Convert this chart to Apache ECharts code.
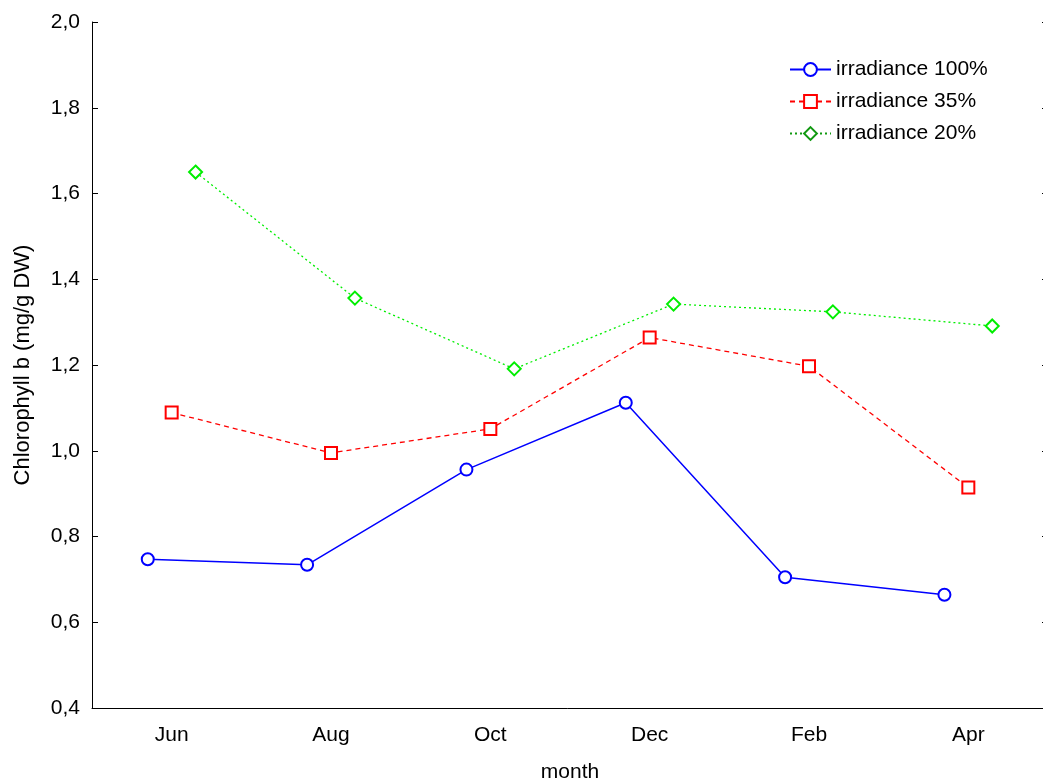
<!DOCTYPE html>
<html>
<head>
<meta charset="utf-8">
<script src="https://cdn.jsdelivr.net/npm/echarts@6/dist/echarts.min.js"></script>
<style>
	html, body { margin: 0; padding: 0; background: #fff; }
	#chart { width: 1043px; height: 783px; }
</style>
</head>
<body>
<div id="chart"></div>
<script>
// data
const months = ['Jun', 'Aug', 'Oct', 'Dec', 'Feb', 'Apr'];
const irr100 = [0.747, 0.734, 0.956, 1.112, 0.705, 0.664];
const irr35 = [1.089, 0.995, 1.051, 1.264, 1.197, 0.914];
const irr20 = [1.650, 1.356, 1.191, 1.342, 1.324, 1.291];
const seriesNames = ['irradiance 100%', 'irradiance 35%', 'irradiance 20%'];
// horizontal shift of each series inside its month (in category units)
const shift = [-0.15, 0, 0.15];

const chart = echarts.init(document.getElementById('chart'));

const font = 'Liberation Sans, Arial, sans-serif';

function points(values, off) {
	return values.map(function(v, i) {
		return [i + off, v];
	});
}

let option = {
	backgroundColor: '#ffffff',
	animation: false,
	textStyle: {
		fontFamily: font
	},
	grid: {
		left: 92,
		width: 956,
		top: 22,
		height: 686,
		outerBoundsMode: 'none'
	},
	legend: {
		orient: 'vertical',
		left: 784,
		top: 54,
		itemWidth: 41,
		itemHeight: 16,
		itemGap: 11,
		textStyle: {
			color: '#000',
			fontSize: 21,
			fontFamily: font
		},
		data: [
			seriesNames[0],
			seriesNames[1],
			{
				name: seriesNames[2],
				itemStyle: { color: '#119911', borderColor: '#119911' },
				lineStyle: { color: '#119911' }
			}
		]
	},
	xAxis: [{
		type: 'category',
		data: months,
		boundaryGap: true,
		name: 'month',
		nameLocation: 'middle',
		nameGap: 54,
		nameTextStyle: {
			color: '#000',
			fontSize: 21
		},
		axisLine: {
			onZero: false,
			lineStyle: {
				color: '#000',
				width: 1
			}
		},
		axisTick: {
			alignWithLabel: true,
			inside: true,
			length: 6,
			lineStyle: {
				color: '#000'
			}
		},
		axisLabel: {
			color: '#000',
			fontSize: 21,
			margin: 17
		},
		splitLine: {
			show: false
		}
	}, {
		// hidden value axis that places the shifted points
		type: 'value',
		min: -0.5,
		max: 5.5,
		show: false
	}],
	yAxis: [{
		type: 'value',
		min: 0.4,
		max: 2.0,
		interval: 0.2,
		name: 'Chlorophyll b (mg/g DW)',
		nameLocation: 'middle',
		nameGap: 58,
		nameTextStyle: {
			color: '#000',
			fontSize: 22
		},
		axisLine: {
			show: true,
			onZero: false,
			lineStyle: {
				color: '#000',
				width: 1
			}
		},
		axisTick: {
			show: true,
			inside: true,
			length: 6,
			lineStyle: {
				color: '#000'
			}
		},
		axisLabel: {
			color: '#000',
			fontSize: 21,
			margin: 12,
			formatter: function(v) {
				return v.toFixed(1).replace('.', ',');
			}
		},
		splitLine: {
			show: false
		}
	}, {
		type: 'value',
		position: 'right',
		min: 0.4,
		max: 2.0,
		interval: 0.2,
		axisLine: {
			show: true,
			onZero: false,
			lineStyle: {
				color: '#000'
			}
		},
		axisTick: {
			show: true,
			inside: true,
			length: 6,
			lineStyle: {
				color: '#000'
			}
		},
		axisLabel: {
			show: false
		},
		splitLine: {
			show: false
		}
	}],
	series: [{
		name: seriesNames[0],
		type: 'line',
		xAxisIndex: 1,
		symbol: 'emptyCircle',
		symbolSize: 12,
		color: '#0000ff',
		itemStyle: {
			color: '#0000ff',
			borderWidth: 2
		},
		lineStyle: {
			color: '#0000ff',
			width: 1.5,
			type: 'solid'
		},
		data: points(irr100, shift[0])
	}, {
		name: seriesNames[1],
		type: 'line',
		xAxisIndex: 1,
		symbol: 'emptyRect',
		symbolSize: 12,
		color: '#ff0000',
		itemStyle: {
			color: '#ff0000',
			borderWidth: 2
		},
		lineStyle: {
			color: '#ff0000',
			width: 1.3,
			type: [5, 4]
		},
		data: points(irr35, shift[1])
	}, {
		name: seriesNames[2],
		type: 'line',
		xAxisIndex: 1,
		symbol: 'emptyDiamond',
		symbolSize: 13,
		color: '#00ee00',
		itemStyle: {
			color: '#00ee00',
			borderWidth: 1.8
		},
		lineStyle: {
			color: '#00ee00',
			width: 1.3,
			type: [2, 3]
		},
		data: points(irr20, shift[2])
	}]
};
chart.setOption(option);
</script>
</body>
</html>
